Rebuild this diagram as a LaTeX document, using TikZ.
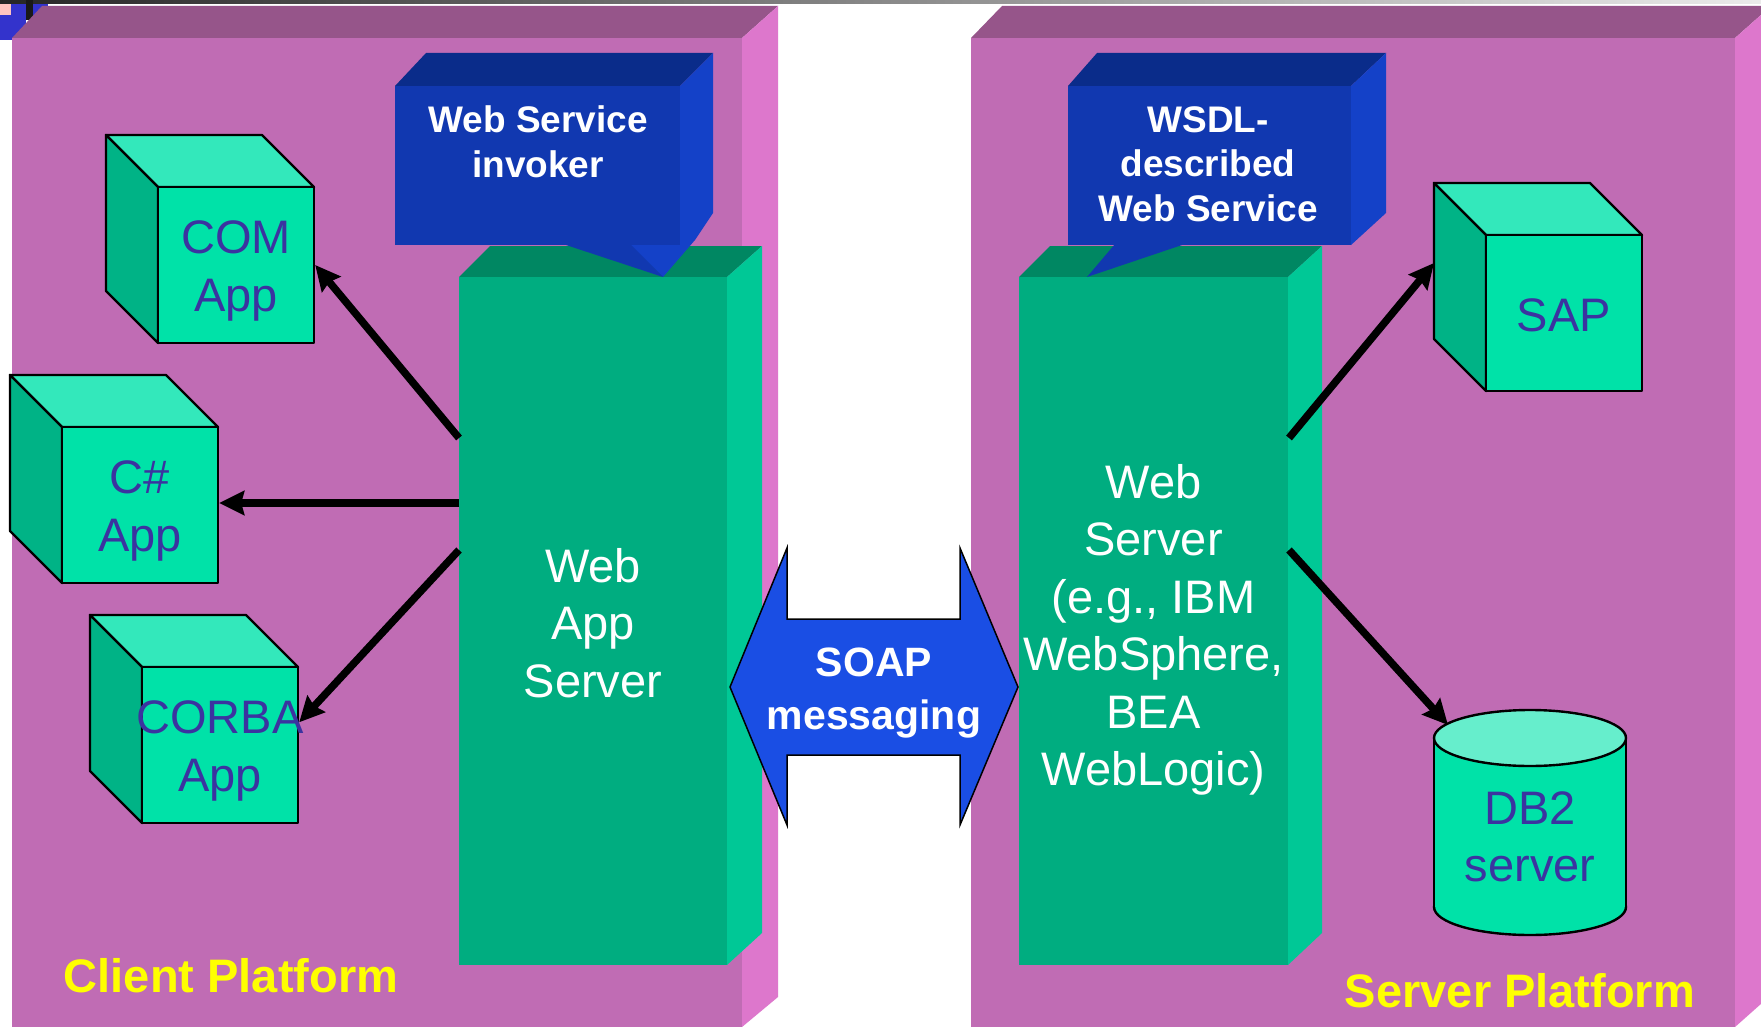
\documentclass[tikz,border=0pt]{standalone}
\usepackage{fontspec}
\setmainfont{Liberation Sans}
\usetikzlibrary{arrows.meta}
\definecolor{platF}{HTML}{C06CB4}
\definecolor{platT}{HTML}{96558A}
\definecolor{platS}{HTML}{DD77CC}
\definecolor{colF}{HTML}{00AD80}
\definecolor{colT}{HTML}{008762}
\definecolor{colS}{HTML}{00C896}
\definecolor{callF}{HTML}{1138B0}
\definecolor{callT}{HTML}{0A2C8A}
\definecolor{callS}{HTML}{1441C8}
\definecolor{cubeF}{HTML}{00E2A8}
\definecolor{cubeT}{HTML}{33E8BB}
\definecolor{cubeS}{HTML}{00B386}
\definecolor{cylT}{HTML}{66EECC}
\definecolor{soapB}{HTML}{1A4EE4}
\definecolor{appTxt}{HTML}{3B33A0}
\definecolor{platTxt}{HTML}{FFFF00}
\definecolor{cornerB}{HTML}{3333CC}
\definecolor{cornerP}{HTML}{FFC4C0}
\tikzset{
  cubeedge/.style={draw=black,line width=2.4pt,line join=round},
  cubefront/.style={cubeedge,fill=cubeF,minimum width=156pt,minimum height=156pt,inner sep=0pt},
  cubetext/.style={text=appTxt,font=\fontsize{47}{57.5}\selectfont,align=center,inner sep=0pt},
  colfront/.style={fill=colF,inner sep=0pt,minimum height=688pt},
  coltext/.style={text=white,font=\fontsize{47}{57.5}\selectfont,align=center,inner sep=0pt},
  callfront/.style={fill=callF,inner sep=0pt,minimum height=159pt},
  calltext/.style={text=white,font=\bfseries\fontsize{37}{44.5}\selectfont,align=center,inner sep=0pt},
  soapshape/.style={fill=soapB,draw=black,line width=1.5pt,line join=miter},
  soaptext/.style={text=white,font=\bfseries\fontsize{41}{53}\selectfont,align=center,inner sep=0pt},
  platlabel/.style={text=platTxt,font=\bfseries\fontsize{47}{56}\selectfont,inner sep=0pt},
  conn/.style={draw=black,line width=7.5pt,-{Stealth[length=25pt,width=24pt,inset=3pt]}},
}
\newcommand\appcube[5]{%
  \filldraw[cubeedge,fill=cubeT] (#2,#3) -- ++(-52,-52) -- ++(156,0) -- ++(52,52) -- cycle;
  \filldraw[cubeedge,fill=cubeS] (#2,#3) -- ++(-52,-52) -- ++(0,156) -- ++(52,52) -- cycle;
  \node[cubefront,label={[cubetext,yshift=#5]center:#4}] (#1) at (#2+78,#3+78) {};
}
\begin{document}
\begin{tikzpicture}[x=1pt,y=-1pt]
\useasboundingbox (0,0) rectangle (1761,1027);
\fill[white] (0,0) rectangle (1761,1027);
% top bar and corner
\shade[left color=black!85,right color=black!8] (0,0) rectangle (1761,4);
\fill[cornerB] (0,4) rectangle (26,40);
\fill[cornerB] (33,4) rectangle (48,20);
\fill[cornerP] (0,4) rectangle (11,15);
\fill[black!90] (26,0) rectangle (33,20);
% client platform
\fill[platF] (12,38) rectangle (742,1027);
\fill[platT] (12,38) -- (42,6) -- (778,6) -- (742,38) -- cycle;
\fill[platS] (742,38) -- (778,6) -- (778,997) -- (742,1027) -- cycle;
% server platform
\fill[platF] (971,38) rectangle (1735,1027);
\fill[platT] (971,38) -- (1002,6) -- (1771,6) -- (1735,38) -- cycle;
\fill[platS] (1735,38) -- (1771,6) -- (1771,995) -- (1735,1027) -- cycle;
% client column
\fill[colT] (459,277) -- (490,246) -- (762,246) -- (727,277) -- cycle;
\fill[colS] (727,277) -- (762,246) -- (762,933) -- (727,965) -- cycle;
\node[colfront,minimum width=268pt,label={[coltext,yshift=-2pt]center:Web\\App\\Server}] (was) at (593,621) {};
% server column
\fill[colT] (1019,277) -- (1050,246) -- (1322,246) -- (1288,277) -- cycle;
\fill[colS] (1288,277) -- (1322,246) -- (1322,933) -- (1288,965) -- cycle;
\node[colfront,minimum width=269pt,label={[coltext,yshift=-9pt]center:Web\\Server\\(e.g., IBM\\WebSphere,\\BEA\\WebLogic)}] (ws) at (1153.5,621) {};
% client callout
\fill[callT] (395,86) -- (426,53) -- (713,53) -- (680,86) -- cycle;
\fill[callS] (680,86) -- (713,53) -- (713,213) -- (695,240) -- (663,277) -- (630,245) -- (680,245) -- cycle;
\node[callfront,minimum width=285pt] (wsi) at (537.5,165.5) {};
\fill[callF] (563,244) -- (663,277) -- (630,244) -- cycle;
\node[calltext] (wsitxt) at (538,142) {Web Service\\invoker};
% server callout
\fill[callT] (1068,86) -- (1097,53) -- (1386,53) -- (1351,86) -- cycle;
\fill[callS] (1351,86) -- (1386,53) -- (1386,213) -- (1351,245) -- cycle;
\node[callfront,minimum width=283pt] (wsd) at (1209.5,165.5) {};
\fill[callF] (1115,244) -- (1087,277) -- (1185,244) -- cycle;
\node[calltext] (wsdtxt) at (1208,164) {WSDL-\\described\\Web Service};
% cubes
\appcube{com}{158}{187}{COM\\App}{-6pt}
\appcube{csharp}{62}{427}{C\#\\App}{-6pt}
\appcube{corba}{142}{667}{CORBA\\App}{-6pt}
\appcube{sap}{1486}{235}{SAP}{-2pt}
% DB2 cylinder
\filldraw[cubeedge,fill=cubeF] (1530,907) ellipse [x radius=96,y radius=28];
\fill[cubeF] (1434,738) rectangle (1626,907);
\draw[cubeedge] (1434,738) -- (1434,907) (1626,738) -- (1626,907);
\filldraw[cubeedge,fill=cylT] (1530,738) ellipse [x radius=96,y radius=28];
\node[cubetext] (db2) at (1530,837) {DB2\\server};
% connectors
\coordinate (c1) at (459,438);
\coordinate (c2) at (459,503);
\coordinate (c3) at (459,550);
\coordinate (s1) at (1289,438);
\coordinate (s2) at (1289,550);
\coordinate (sapin) at (1434,263);
\coordinate (dbin) at (1448,725);
\draw[conn] (c1) -- (com.east);
\draw[conn] (c2) -- (c2 -| csharp.east);
\draw[conn] (c3) -- (corba.16);
\draw[conn] (s1) -- (sapin);
\draw[conn] (s2) -- (dbin);
% SOAP double arrow
\filldraw[soapshape] (730,687) -- (787,548) -- (787,619) -- (960,619) -- (960,548) -- (1018,687) -- (960,825) -- (960,755) -- (787,755) -- (787,825) -- cycle;
\node[soaptext] (soap) at (874,693) {SOAP\\messaging};
% platform labels
\node[platlabel,anchor=base] (cpl) at (231,992) {Client Platform};
\node[platlabel,anchor=base] (spl) at (1520,1007) {Server Platform};
\end{tikzpicture}
\end{document}
